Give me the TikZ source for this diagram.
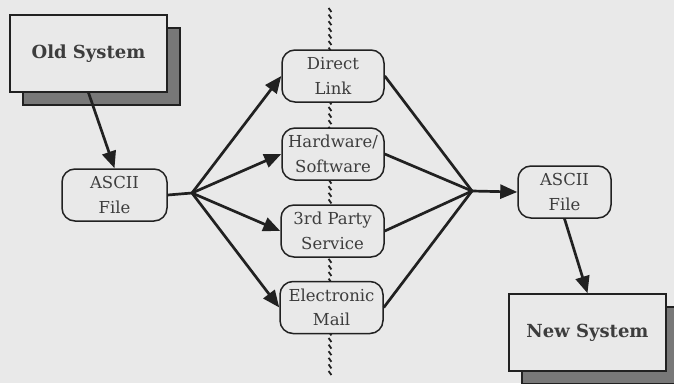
\documentclass[tikz,border=0pt]{standalone}
\usepackage{fontspec}
\setmainfont{DejaVu Serif}
\usetikzlibrary{arrows.meta,shadows}
\definecolor{paper}{gray}{0.915}
\definecolor{ink}{gray}{0.13}
\definecolor{textink}{gray}{0.24}
\definecolor{shade}{gray}{0.47}

\begin{document}
\begin{tikzpicture}[x=1pt,y=-1pt,
  sysbox/.style={draw=ink, line width=1.5pt, fill=paper, inner sep=0pt,
    minimum width=157pt, minimum height=77pt,
    font=\fontsize{18}{22}\selectfont\bfseries, text=textink,
    copy shadow={shadow xshift=13pt, shadow yshift=-13pt, fill=shade, draw=ink}},
  filebox/.style={draw=ink, line width=1.5pt, fill=paper, rounded corners=13pt,
    inner sep=0pt, align=center, minimum height=52pt,
    font=\fontsize{16.5}{24.5}\selectfont, text=textink},
  link/.style={draw=ink, line width=2.7pt},
  arr/.style={link, -{Triangle[length=17pt,width=14pt]}},
  hatch/.style={draw=ink, line width=1.8pt},
]
\useasboundingbox (0,0) rectangle (674,383);
\clip (0,0) rectangle (674,383);
\fill[paper] (0,0) rectangle (674,383);

% hatched boundary line between the two systems
\foreach \y in {8,14.6,...,376}
  \draw[hatch] (328.6,\y) -- (331.4,\y+4);

% systems
\node[sysbox] (old) at (88.5,53.5) {Old System};
\node[sysbox] (new) at (587.5,332.5) {New System};

% exported and imported files
\node[filebox, minimum width=105pt] (src) at (114.5,195) {ASCII\\File};
\node[filebox, minimum width=93pt]  (dst) at (564.5,192) {ASCII\\File};

% transfer channels
\node[filebox, minimum width=102pt] (direct) at (333,76)    {Direct\\Link};
\node[filebox, minimum width=102pt] (hw)     at (333,154)   {Hardware/\\Software};
\node[filebox, minimum width=103pt] (third)  at (332.5,231) {3rd Party\\Service};
\node[filebox, minimum width=103pt] (mail)   at (331.5,307.5) {Electronic\\Mail};

\coordinate (fanout) at (192,193);
\coordinate (fanin)  at (472,191);

% connectors
\draw[arr] (old.south) -- (src.north);
\draw[link] (src.east) -- (fanout);
\draw[arr] (fanout) -- (direct.west);
\draw[arr] (fanout) -- (hw.west);
\draw[arr] (fanout) -- (third.west);
\draw[arr] (fanout) -- (mail.west);
\draw[link] (direct.east) -- (fanin);
\draw[link] (hw.east) -- (fanin);
\draw[link] (third.east) -- (fanin);
\draw[link] (mail.east) -- (fanin);
\draw[arr] (fanin) -- (dst.west);
\draw[arr] (dst.south) -- (new.north);
\end{tikzpicture}
\end{document}
